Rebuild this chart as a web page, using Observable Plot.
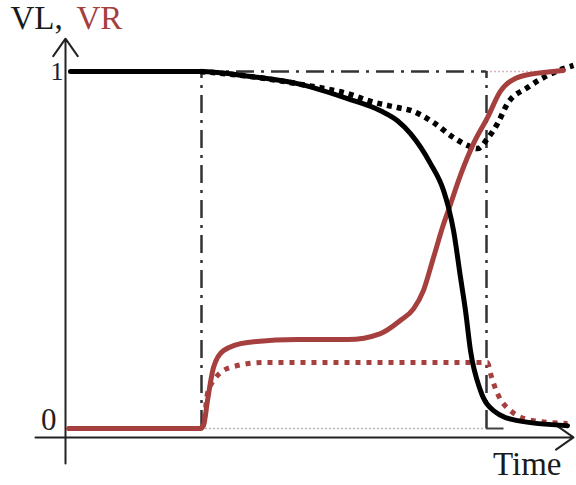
<!DOCTYPE html>
<html><head><meta charset="utf-8">
<script src="https://cdn.jsdelivr.net/npm/d3@7"></script>
<script src="https://cdn.jsdelivr.net/npm/@observablehq/plot@0.6"></script>
<style>body{margin:0;background:#fff}</style>
</head><body><div id="chart"></div>
<script>
// time (arbitrary units) and normalised voltages
const vlSolidTime = [0.1, 2.7, 3.7, 4.7, 5.64, 6.3, 6.64, 6.9, 7.3, 7.56, 7.66, 7.76, 7.9, 8.0, 8.1, 8.3, 8.56, 9.04, 10.04];
const vlSolidVal  = [1, 1, 0.986, 0.964, 0.924, 0.89, 0.862, 0.826, 0.742, 0.667, 0.619, 0.555, 0.423, 0.33, 0.218, 0.106, 0.05, 0.022, 0.008];

const vlDotTime = [2.7, 3.7, 4.7, 5.76, 6.04, 6.64, 6.9, 7.36, 7.76, 8.04, 8.24, 8.44, 8.64, 8.84, 9.24, 9.56, 9.96, 10.16];
const vlDotVal  = [1, 0.986, 0.964, 0.933, 0.919, 0.899, 0.891, 0.857, 0.815, 0.793, 0.784, 0.812, 0.854, 0.91, 0.955, 0.983, 1.008, 1.017];

const vrSolidTime = [0.06, 2.7, 2.76, 2.84, 2.96, 3.16, 3.64, 4.64, 5.64, 6.3, 6.7, 6.96, 7.16, 7.36, 7.56, 7.66, 7.9, 8.16, 8.44, 8.7, 9.1, 9.76, 9.96];
const vrSolidVal  = [0, 0, 0.008, 0.078, 0.171, 0.218, 0.241, 0.249, 0.249, 0.266, 0.303, 0.335, 0.387, 0.479, 0.572, 0.612, 0.71, 0.798, 0.871, 0.945, 0.986, 1.0, 1.003];

const vrDotTime = [2.7, 2.76, 2.84, 2.96, 3.3, 3.96, 8.44, 8.5, 8.64, 8.9, 9.36, 10.04];
const vrDotVal  = [0, 0.014, 0.098, 0.134, 0.171, 0.185, 0.185, 0.154, 0.098, 0.05, 0.022, 0.014];

const stepTime = 2.72;   // input switched on
const endTime = 8.42;    // input switched off
const yTickValues = [0, 1];
const yTickLabels = ["0", "1"];

const rows = (ts, vs) => ts.map((t, i) => ({t, v: vs[i]}));
const red = "#a5403e";

const chart = Plot.plot({
  width: 576, height: 485, margin: 0,
  x: {domain: [0, 10], range: [65, 565], axis: null},
  y: {domain: [0, 1], range: [428, 71], axis: null},
  style: {background: "#fff", fontFamily: "'Liberation Serif', 'Times New Roman', serif", overflow: "visible"},
  marks: [
    // reference guides
    Plot.ruleY([{v: 0}], {y: "v", x1: stepTime, x2: endTime, stroke: "#b8b8b8", strokeWidth: 1.5, strokeDasharray: "2,2"}),
    Plot.ruleY([{v: 1}], {y: "v", x1: endTime, x2: 9.8, stroke: "#d8b8b8", strokeWidth: 1.5, strokeDasharray: "2,2"}),
    Plot.ruleY([{v: 1}], {y: "v", x1: stepTime, x2: endTime, stroke: "#333", strokeWidth: 2.5, strokeDasharray: "18,7,3,7"}),
    Plot.ruleX([{t: stepTime}], {x: "t", y1: 0, y2: 1, stroke: "#333", strokeWidth: 2.5, strokeDasharray: "18,7,3,7"}),
    Plot.ruleX([{t: endTime}], {x: "t", y1: 0, y2: 1, stroke: "#333", strokeWidth: 2.5, strokeDasharray: "18,7,3,7"}),
    Plot.ruleY([{v: 0}], {y: "v", x1: endTime, x2: endTime + 0.35, stroke: "#444", strokeWidth: 2}),
    // axes with arrow heads
    Plot.arrow([{a: -0.098, b: 1.092}], {x1: () => 0, x2: () => 0, y1: "a", y2: "b", stroke: "#222", strokeWidth: 2, headLength: 16, headAngle: 70}),
    Plot.arrow([{a: -0.6, b: 10.16}], {x1: "a", x2: "b", y1: () => -0.025, y2: () => -0.025, stroke: "#222", strokeWidth: 2, headLength: 16, headAngle: 70}),
    // curves
    Plot.line(rows(vrDotTime, vrDotVal), {x: "t", y: "v", stroke: red, strokeWidth: 5, strokeDasharray: "5,6", strokeLinecap: "butt", curve: "monotone-x"}),
    Plot.line(rows(vlDotTime, vlDotVal), {x: "t", y: "v", stroke: "#000", strokeWidth: 5.5, strokeDasharray: "5,5", strokeLinecap: "butt", curve: "monotone-x"}),
    Plot.line(rows(vrSolidTime, vrSolidVal), {x: "t", y: "v", stroke: red, strokeWidth: 5, curve: "monotone-x"}),
    Plot.line(rows(vlSolidTime, vlSolidVal), {x: "t", y: "v", stroke: "#000", strokeWidth: 5, curve: "monotone-x"}),
    // tick labels
    Plot.text([{v: yTickValues[1], s: yTickLabels[1]}], {x: () => 0, y: "v", text: "s", textAnchor: "end", dx: -2, fontSize: 26, fill: "#1c2233"}),
    Plot.text([{v: yTickValues[0], s: yTickLabels[0]}], {x: () => 0, y: "v", text: "s", textAnchor: "end", dx: -9, dy: -8, fontSize: 31, fill: "#222"}),
    // titles
    Plot.text(["VL,"], {frameAnchor: "top-left", lineAnchor: "middle", textAnchor: "start", dx: 10, dy: 18, fontSize: 33, fill: "#1a1a1a"}),
    Plot.text(["VR"], {frameAnchor: "top-left", lineAnchor: "middle", textAnchor: "start", dx: 76, dy: 18, fontSize: 33, fill: red}),
    Plot.text(["Time"], {frameAnchor: "top-left", lineAnchor: "middle", textAnchor: "end", dx: 561, dy: 464, fontSize: 33, fill: "#1a1a1a"})
  ]
});
document.getElementById("chart").append(chart);
</script>
</body></html>
